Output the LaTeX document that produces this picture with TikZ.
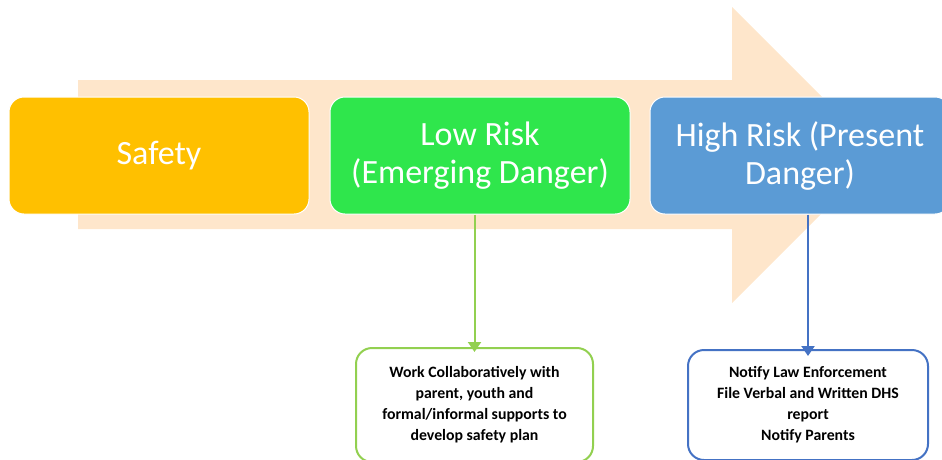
\documentclass[tikz,border=0pt]{standalone}
\usepackage{fontspec}
\setmainfont{Carlito}
\usetikzlibrary{arrows.meta}
\definecolor{peach}{HTML}{FEE6CB}
\definecolor{safety}{HTML}{FFC000}
\definecolor{lowrisk}{HTML}{2FE64C}
\definecolor{highrisk}{HTML}{5B9BD5}
\definecolor{greenline}{HTML}{92D050}
\definecolor{blueline}{HTML}{4472C4}
\tikzset{
  stage/.style={rounded corners=15pt, draw=white, line width=1pt,
    minimum width=300pt, minimum height=117pt, inner sep=0pt,
    text=white, align=center, font=\fontsize{34}{38}\selectfont},
  actionbox/.style={rounded corners=16pt, fill=white, line width=2pt,
    inner sep=0pt, align=center, text=black,
    font=\bfseries\fontsize{15.8}{21}\selectfont},
  link/.style={line width=2pt, -{Triangle[width=13pt,length=10pt]}}
}
\begin{document}
\begin{tikzpicture}[x=1pt,y=-1pt]
\useasboundingbox (0,0) rectangle (942,459);
\clip (0,0) rectangle (942,459);
% background progress arrow
\fill[peach] (78,80) -- (732,80) -- (732,7) -- (880,155) -- (732,303)
  -- (732,229) -- (78,229) -- cycle;
% stages
\node[stage, fill=safety] (safe) at (159,155.5) {Safety};
\node[stage, fill=lowrisk] (low) at (480,155.5) {Low Risk\\(Emerging Danger)};
\node[stage, fill=highrisk] (high) at (800,155.5) {High Risk (Present\\Danger)};
% actions
\node[actionbox, draw=greenline, minimum width=237pt, minimum height=114pt]
  (plan) at (474.5,405) {Work Collaboratively with\\parent, youth and\\formal/informal supports to\\develop safety plan};
\node[actionbox, draw=blueline, minimum width=240pt, minimum height=110pt]
  (notify) at (808,405) {Notify Law Enforcement\\File Verbal and Written DHS\\report\\Notify Parents};
% connectors
\draw[link, greenline] (low.south -| plan.north) -- ([yshift=-5pt]plan.north);
\draw[link, blueline] (high.south -| notify.north) -- ([yshift=-7pt]notify.north);
\end{tikzpicture}
\end{document}
